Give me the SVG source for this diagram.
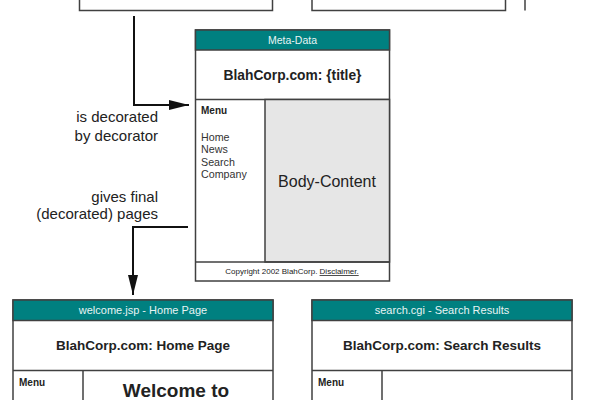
<svg xmlns="http://www.w3.org/2000/svg" width="600" height="400" viewBox="0 0 600 400">
<defs>
<style>
.box{fill:#fff;stroke:#404040;stroke-width:1.5}
.hdr{fill:#008080;stroke:#404040;stroke-width:1.5}
.ln{stroke:#404040;stroke-width:1.5;fill:none}
.body{fill:#e6e6e6;stroke:#404040;stroke-width:1.5}
.ht{font-family:"Liberation Sans",Arial,sans-serif;fill:#e8f4f4;text-anchor:middle}
.tt{font-family:"Liberation Sans",Arial,sans-serif;font-weight:bold;fill:#222;text-anchor:middle}
.mn{font-family:"Liberation Sans",Arial,sans-serif;font-weight:bold;font-size:10px;fill:#222}
.mi{font-family:"Liberation Sans",Arial,sans-serif;font-size:10.7px;fill:#333}
.lbl{font-family:"Liberation Sans",Arial,sans-serif;font-size:15px;fill:#222;text-anchor:end}
.conn{stroke:#111;stroke-width:2;fill:none}
</style>
<marker id="arr" viewBox="0 0 20 10" refX="20" refY="5" markerWidth="20" markerHeight="10" markerUnits="userSpaceOnUse" orient="auto">
<path d="M0 0 L20 5 L0 10 Z" fill="#111"/>
</marker>
</defs>

<g id="top-page-1">
<rect class="box" x="79.5" y="-20" width="193" height="30.5"/>
</g>
<g id="top-page-2">
<rect class="box" x="312" y="-20" width="193.5" height="30.5"/>
</g>
<g id="top-page-3">
<line class="ln" x1="525" y1="0" x2="525" y2="10.5"/>
</g>

<g id="decorator">
<rect class="box" x="195.5" y="30" width="194" height="251"/>
<rect class="hdr" x="195.5" y="30" width="194" height="20"/>
<text class="ht" x="292.5" y="44" font-size="10.5">Meta-Data</text>
<text class="tt" x="292.5" y="80" font-size="13.8">BlahCorp.com: {title}</text>
<line class="ln" x1="195.5" y1="99.5" x2="389.5" y2="99.5"/>
<rect class="body" x="265" y="99.5" width="124.5" height="162.5"/>
<line class="ln" x1="195.5" y1="262" x2="389.5" y2="262"/>
<text class="mn" x="201" y="114">Menu</text>
<text class="mi" x="201" y="140.5">Home</text>
<text class="mi" x="201" y="153">News</text>
<text class="mi" x="201" y="165.5">Search</text>
<text class="mi" x="201" y="178">Company</text>
<text x="327" y="187" font-family="Liberation Sans, Arial, sans-serif" font-size="16" fill="#222" text-anchor="middle">Body-Content</text>
<text x="292" y="274" font-family="Liberation Sans, Arial, sans-serif" font-size="8" fill="#222" text-anchor="middle">Copyright 2002 BlahCorp. <tspan text-decoration="underline">Disclaimer.</tspan></text>
</g>

<g id="home-page">
<rect class="box" x="13" y="300" width="260" height="120"/>
<rect class="hdr" x="13" y="300" width="260" height="20.5"/>
<text class="ht" x="143" y="314" font-size="11">welcome.jsp - Home Page</text>
<text class="tt" x="143" y="350" font-size="13.5">BlahCorp.com: Home Page</text>
<line class="ln" x1="13" y1="370.5" x2="273" y2="370.5"/>
<line class="ln" x1="83" y1="370.5" x2="83" y2="400"/>
<text class="mn" x="19" y="386">Menu</text>
<text class="tt" x="176" y="397" font-size="19">Welcome to</text>
</g>

<g id="search-page">
<rect class="box" x="312" y="300" width="260" height="120"/>
<rect class="hdr" x="312" y="300" width="260" height="20.5"/>
<text class="ht" x="442" y="314" font-size="11">search.cgi - Search Results</text>
<text class="tt" x="442" y="350" font-size="13.5">BlahCorp.com: Search Results</text>
<line class="ln" x1="312" y1="370.5" x2="572" y2="370.5"/>
<line class="ln" x1="382" y1="370.5" x2="382" y2="400"/>
<text class="mn" x="318" y="386">Menu</text>
</g>

<g id="connectors">
<path class="conn" d="M134 16 V105 H189" marker-end="url(#arr)"/>
<path class="conn" d="M188 227 H133 V295" marker-end="url(#arr)"/>
<text class="lbl" x="158" y="122">is decorated</text>
<text class="lbl" x="158" y="140.5">by decorator</text>
<text class="lbl" x="158" y="201.5">gives final</text>
<text class="lbl" x="158" y="218.5">(decorated) pages</text>
</g>
</svg>
